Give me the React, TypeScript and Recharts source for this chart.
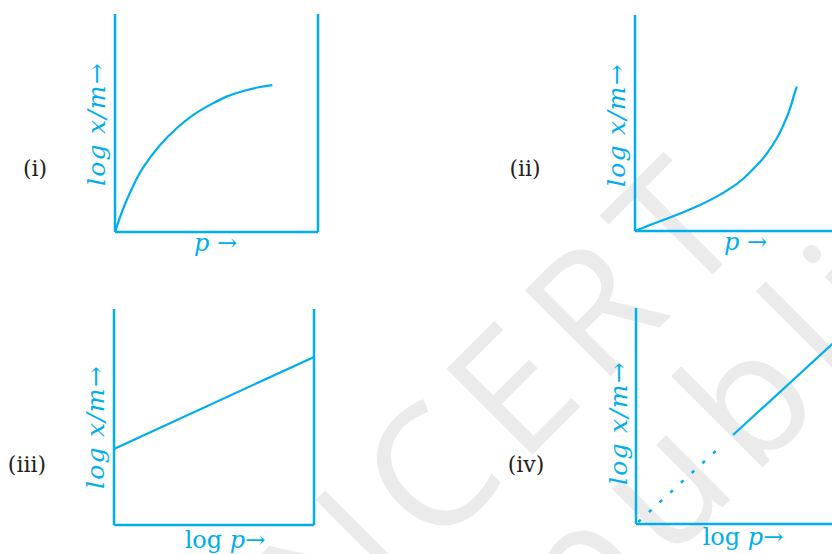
import React from "react";
import { LineChart, Line, XAxis, YAxis, Label } from "recharts";

const COLOR = "#00AEEF";
const INK = "#231f20";
const WATERMARK = "#ebebeb";
const SERIF = "'DejaVu Serif', serif";

// Panel (i): x/m vs p — saturating curve
const panel1Pressure = [0, 4.1, 9.0, 13.9, 22.2, 30.4, 38.6, 46.8, 55.0, 63.2, 71.4, 77.5];
const panel1Adsorption = [0, 10.9, 21.2, 29.6, 39.9, 47.6, 53.7, 58.3, 62.1, 64.7, 66.5, 67.4];

// Panel (ii): rising curve
const panel2Pressure = [0, 7.4, 15.6, 23.8, 32.0, 40.2, 46.8, 53.3, 59.9, 64.9, 69.8, 73.1, 76.4, 78.3, 79.7];
const panel2Adsorption = [0, 2.8, 5.7, 8.7, 12.0, 15.9, 19.6, 24.2, 30.3, 35.8, 42.8, 49.0, 56.8, 62.8, 66.8];

// Panel (iii): straight line log x/m vs log p
const panel3LogP = [0, 100];
const panel3LogXm = [35.2, 77.8];

// Panel (iv): extrapolated (dotted) + measured (solid) line
const panel4DottedLogP = [0, 43.5];
const panel4DottedLogXm = [0, 36.9];
const panel4SolidLogP = [48.5, 100];
const panel4SolidLogXm = [41.2, 84.9];

const zip = (xs: number[], ys: number[]) => xs.map((x, i) => ({ x, y: ys[i] }));

type Part = { t: string; italic?: boolean };

const yTitleParts: Part[] = [{ t: "log x/m", italic: true }, { t: "→" }];
const pTitleParts: Part[] = [{ t: "p", italic: true }, { t: " →" }];
const logPTitleParts: Part[] = [{ t: "log " }, { t: "p", italic: true }, { t: "→" }];

const Title = (props: any) => {
  const { viewBox, parts, vertical, dx = 0, dy = 0 } = props;
  if (!viewBox) return null;
  const { x, y, width, height } = viewBox;
  const spans = (parts as Part[]).map((p, i) => (
    <tspan key={i} fontStyle={p.italic ? "italic" : "normal"}>
      {p.t}
    </tspan>
  ));
  if (vertical) {
    const cx = x + width + dx;
    const cy = y + height / 2 + dy;
    return (
      <text
        x={cx}
        y={cy}
        transform={`rotate(-90 ${cx} ${cy})`}
        textAnchor="middle"
        fill={COLOR}
        fontFamily={SERIF}
        fontSize={25}
        letterSpacing={1.2}
        style={{ whiteSpace: "pre" }}
      >
        {spans}
      </text>
    );
  }
  const cx = x + width / 2 + dx;
  const cy = y + dy;
  return (
    <text
      x={cx}
      y={cy}
      textAnchor="middle"
      fill={COLOR}
      fontFamily={SERIF}
      fontSize={24}
      style={{ whiteSpace: "pre" }}
    >
      {spans}
    </text>
  );
};

type Series = { data: { x: number; y: number }[]; type: "natural" | "linear"; dash?: string; width?: number };

type PanelProps = {
  left: number;
  top: number;
  width: number;
  height: number;
  margin: { top: number; right: number; bottom: number; left: number };
  series: Series[];
  rightAxis: boolean;
  xParts: Part[];
  xDx: number;
  xDy: number;
  yDx: number;
  yDy: number;
};

const axisLine = { stroke: COLOR, strokeWidth: 2.5 };

const Panel = (p: PanelProps) => (
  <div style={{ position: "absolute", left: p.left, top: p.top }}>
    <LineChart
      width={p.width}
      height={p.height}
      margin={{
        top: p.margin.top,
        right: p.margin.right - (p.rightAxis ? 1 : 0),
        bottom: p.margin.bottom - 1,
        left: p.margin.left - 1,
      }}
    >
      <XAxis
        type="number"
        dataKey="x"
        domain={[0, 100]}
        allowDataOverflow
        tick={false}
        tickLine={false}
        axisLine={axisLine}
        height={1}
      >
        <Label content={(lp: any) => <Title {...lp} parts={p.xParts} dx={p.xDx} dy={p.xDy} />} />
      </XAxis>
      <YAxis
        type="number"
        domain={[0, 100]}
        allowDataOverflow
        tick={false}
        tickLine={false}
        axisLine={axisLine}
        width={1}
      >
        <Label content={(lp: any) => <Title {...lp} parts={yTitleParts} vertical dx={p.yDx} dy={p.yDy} />} />
      </YAxis>
      {p.rightAxis && (
        <YAxis
          yAxisId="right"
          orientation="right"
          type="number"
          domain={[0, 100]}
          tick={false}
          tickLine={false}
          axisLine={axisLine}
          width={1}
        />
      )}
      {p.series.map((s, i) => (
        <Line
          key={i}
          data={s.data}
          dataKey="y"
          type={s.type}
          stroke={COLOR}
          strokeWidth={s.width ?? 2.2}
          strokeDasharray={s.dash}
          dot={false}
          activeDot={false}
          isAnimationActive={false}
        />
      ))}
    </LineChart>
  </div>
);

export default function App() {
  return (
    <div
      style={{
        position: "absolute",
        left: 0,
        top: 0,
        width: 832,
        height: 554,
        overflow: "hidden",
        background: "#ffffff",
      }}
    >
      <svg width={832} height={554} style={{ position: "absolute", left: 0, top: 0 }}>
        <text
          x={332}
          y={655}
          transform="rotate(-45 332 655)"
          fontFamily="'Open Sans', sans-serif"
          fontSize={170}
          fontWeight={500}
          letterSpacing={16}
          fill={WATERMARK}
        >
          NCERT
        </text>
        <text
          x={443}
          y={787}
          transform="rotate(-45 443 787)"
          fontFamily="'Open Sans', sans-serif"
          fontSize={170}
          fontWeight={500}
          letterSpacing={16}
          fill={WATERMARK}
        >
          republished
        </text>
      </svg>

      <Panel
        left={0}
        top={0}
        width={416}
        height={277}
        margin={{ top: 14, right: 98, bottom: 45, left: 115 }}
        series={[{ data: zip(panel1Pressure, panel1Adsorption), type: "natural" }]}
        rightAxis
        xParts={pTitleParts}
        xDx={-1}
        xDy={19}
        yDx={-10}
        yDy={1}
      />
      <Panel
        left={416}
        top={0}
        width={440}
        height={277}
        margin={{ top: 15, right: 18, bottom: 46, left: 219 }}
        series={[{ data: zip(panel2Pressure, panel2Adsorption), type: "natural" }]}
        rightAxis={false}
        xParts={pTitleParts}
        xDx={9}
        xDy={19}
        yDx={-10}
        yDy={2}
      />
      <Panel
        left={0}
        top={277}
        width={416}
        height={277}
        margin={{ top: 32, right: 102, bottom: 29, left: 114 }}
        series={[{ data: zip(panel3LogP, panel3LogXm), type: "linear" }]}
        rightAxis
        xParts={logPTitleParts}
        xDx={11}
        xDy={23}
        yDx={-10}
        yDy={10}
      />
      <Panel
        left={416}
        top={277}
        width={440}
        height={277}
        margin={{ top: 31, right: 20, bottom: 30, left: 220 }}
        series={[
          { data: zip(panel4DottedLogP, panel4DottedLogXm), type: "linear", dash: "0 3 3.5 8", width: 2.5 },
          { data: zip(panel4SolidLogP, panel4SolidLogXm), type: "linear" },
        ]}
        rightAxis={false}
        xParts={logPTitleParts}
        xDx={7}
        xDy={21}
        yDx={-9}
        yDy={7}
      />

      <svg width={832} height={554} style={{ position: "absolute", left: 0, top: 0, pointerEvents: "none" }}>
        <text x={35} y={176} textAnchor="middle" fontFamily={SERIF} fontSize={22} fill={INK}>
          (i)
        </text>
        <text x={525} y={176} textAnchor="middle" fontFamily={SERIF} fontSize={22} fill={INK}>
          (ii)
        </text>
        <text x={27} y={472} textAnchor="middle" fontFamily={SERIF} fontSize={22} fill={INK}>
          (iii)
        </text>
        <text x={526} y={472} textAnchor="middle" fontFamily={SERIF} fontSize={22} fill={INK}>
          (iv)
        </text>
      </svg>
    </div>
  );
}
